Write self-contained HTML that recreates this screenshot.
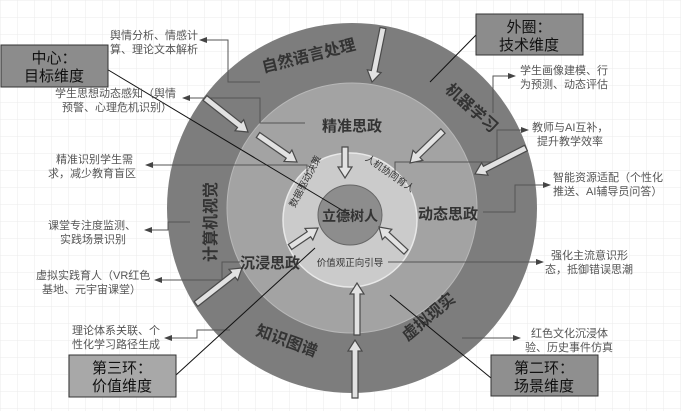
<!DOCTYPE html>
<html><head><meta charset="utf-8">
<style>
html,body{margin:0;padding:0;background:#fff;}
svg{display:block;font-family:"Liberation Sans","Noto Sans CJK SC",sans-serif;}
.ann{font-size:11px;fill:#555;}
.ring{font-size:16px;font-weight:bold;fill:#333;}
.mid{font-size:15px;font-weight:bold;fill:#333;}
.inn{font-size:9.5px;fill:#333;}
.box{font-size:15px;fill:#111;}
.con{fill:none;stroke:#555;stroke-width:1;}
</style></head><body>
<svg id="s" width="681" height="411" viewBox="0 0 681 411" xmlns="http://www.w3.org/2000/svg">
<defs>
<pattern id="g" width="17" height="17" patternUnits="userSpaceOnUse">
<path d="M17 0H0V17" fill="none" stroke="#ebebeb" stroke-width="1"/>
</pattern>
<marker id="ah" markerWidth="8" markerHeight="8" refX="7" refY="4" orient="auto" markerUnits="userSpaceOnUse">
<path d="M0,1 L8,4 L0,7 z" fill="#444"/>
</marker>
</defs>
<rect width="681" height="411" fill="url(#g)"/>
<circle cx="352" cy="208" r="185" fill="#7d7d7d"/>
<circle cx="352" cy="208" r="125" fill="#a3a3a3" stroke="#b8b8b8" stroke-width="1"/>
<circle cx="350" cy="220" r="67" fill="#cbcbcb" stroke="#e8e8e8" stroke-width="1.5"/>
<ellipse cx="350" cy="215" rx="32" ry="30" fill="#8d8d8d" stroke="#666" stroke-width="1"/>

<polyline class="con" points="260,82 228,82 228,40 200,40" marker-end="url(#ah)"/>
<polyline class="con" points="305,123 260,123 260,98 183,98" marker-end="url(#ah)"/>
<polyline class="con" points="307,175 307,165 146,165" marker-end="url(#ah)"/>
<polyline class="con" points="190,222 168,222 168,230 145,230" marker-end="url(#ah)"/>
<polyline class="con" points="240,262 222,262 222,280 155,280" marker-end="url(#ah)"/>
<polyline class="con" points="230,330 197,330 197,338 165,338" marker-end="url(#ah)"/>
<polyline class="con" points="493,113 493,76 515,76" marker-end="url(#ah)"/>
<polyline class="con" points="395,175 395,162 497,162 497,130 528,130" marker-end="url(#ah)"/>
<polyline class="con" points="483,212 515,212 515,185 550,185" marker-end="url(#ah)"/>
<polyline class="con" points="388,262 543,262" marker-end="url(#ah)"/>
<polyline class="con" points="462,338 520,338" marker-end="url(#ah)"/>

<g id="arrows"></g>

<line x1="105" y1="68" x2="350" y2="215" stroke="#111" stroke-width="1"/>
<line x1="476" y1="35" x2="430" y2="82" stroke="#111" stroke-width="1"/>
<line x1="176" y1="375" x2="315" y2="248" stroke="#111" stroke-width="1"/>
<line x1="491" y1="378" x2="390" y2="295" stroke="#111" stroke-width="1"/>

<text class="ring" transform="translate(310,61) rotate(-14)" text-anchor="middle">自然语言处理</text>
<text class="ring" transform="translate(468,112) rotate(42)" text-anchor="middle">机器学习</text>
<text class="ring" transform="translate(216,222) rotate(-90)" text-anchor="middle">计算机视觉</text>
<text class="ring" transform="translate(285,346) rotate(20)" text-anchor="middle">知识图谱</text>
<text class="ring" transform="translate(432,321) rotate(-40)" text-anchor="middle">虚拟现实</text>
<text class="mid" x="352" y="131" text-anchor="middle">精准思政</text>
<text class="mid" x="448" y="219" text-anchor="middle">动态思政</text>
<text class="mid" x="270" y="268" text-anchor="middle">沉浸思政</text>
<text class="inn" transform="translate(308,183) rotate(-62)" text-anchor="middle">数据驱动决策</text>
<text class="inn" transform="translate(388,176) rotate(35)" text-anchor="middle">人机协同育人</text>
<text class="inn" x="350" y="266" text-anchor="middle">价值观正向引导</text>
<text x="350" y="221" text-anchor="middle" style="font-size:14px;font-weight:bold;fill:#333">立德树人</text>

<text class="ann" x="110" y="39">舆情分析、情感计</text><text class="ann" x="110" y="53">算、理论文本解析</text>
<text class="ann" x="55" y="97">学生思想动态感知（舆情</text><text class="ann" x="62" y="111">预警、心理危机识别）</text>
<text class="ann" x="56" y="163">精准识别学生需</text><text class="ann" x="48" y="177">求，减少教育盲区</text>
<text class="ann" x="48" y="229">课堂专注度监测、</text><text class="ann" x="60" y="243">实践场景识别</text>
<text class="ann" x="36" y="279">虚拟实践育人（VR红色</text><text class="ann" x="42" y="293">基地、元宇宙课堂）</text>
<text class="ann" x="72" y="334">理论体系关联、个</text><text class="ann" x="72" y="348">性化学习路径生成</text>
<text class="ann" x="520" y="74">学生画像建模、行</text><text class="ann" x="520" y="88">为预测、动态评估</text>
<text class="ann" x="532" y="131">教师与AI互补，</text><text class="ann" x="537" y="145">提升教学效率</text>
<text class="ann" x="553" y="181">智能资源适配（个性化</text><text class="ann" x="553" y="195">推送、AI辅导员问答）</text>
<text class="ann" x="551" y="259">强化主流意识形</text><text class="ann" x="545" y="273">态，抵御错误思潮</text>
<text class="ann" x="531" y="337">红色文化沉浸体</text><text class="ann" x="525" y="351">验、历史事件仿真</text>

<rect x="1" y="45" width="107" height="42" fill="#8c8c8c" stroke="#333" stroke-width="1"/>
<text class="box" x="54" y="63" text-anchor="middle">中心：</text><text class="box" x="54" y="81" text-anchor="middle">目标维度</text>
<rect x="476" y="14" width="107" height="41" fill="#8c8c8c" stroke="#333" stroke-width="1"/>
<text class="box" x="529" y="32" text-anchor="middle">外圈：</text><text class="box" x="529" y="50" text-anchor="middle">技术维度</text>
<rect x="69" y="355" width="107" height="42" fill="#a8a8a8" stroke="#333" stroke-width="1"/>
<text class="box" x="122" y="373" text-anchor="middle">第三环：</text><text class="box" x="122" y="391" text-anchor="middle">价值维度</text>
<rect x="491" y="355" width="107" height="41" fill="#8f8f8f" stroke="#333" stroke-width="1"/>
<text class="box" x="544" y="373" text-anchor="middle">第二环：</text><text class="box" x="544" y="391" text-anchor="middle">场景维度</text>
</svg>
<script>
(function(){
var A=[[383,28,372,82],[205,98,248,132],[258,135,297,162],[345,147,345,178],[443,131,410,163],[526,148,475,174],[196,304,242,268],[290,247,318,228],[406,252,379,227],[357,335,357,283],[355,398,355,340]];
var g=document.getElementById('arrows'),ns='http://www.w3.org/2000/svg';
A.forEach(function(a){
var x1=a[0],y1=a[1],x2=a[2],y2=a[3],dx=x2-x1,dy=y2-y1,L=Math.sqrt(dx*dx+dy*dy),ux=dx/L,uy=dy/L,px=-uy,py=ux,sw=3,hw=7,hl=11;
var bx=x2-ux*hl,by=y2-uy*hl;
var pts=[[x1+px*sw,y1+py*sw],[bx+px*sw,by+py*sw],[bx+px*hw,by+py*hw],[x2,y2],[bx-px*hw,by-py*hw],[bx-px*sw,by-py*sw],[x1-px*sw,y1-py*sw]];
var p=document.createElementNS(ns,'polygon');
p.setAttribute('points',pts.map(function(q){return q[0].toFixed(1)+','+q[1].toFixed(1)}).join(' '));
p.setAttribute('fill','#e2e2e2');p.setAttribute('stroke','#4a4a4a');p.setAttribute('stroke-width','1.2');
g.appendChild(p);
});
})();
</script>
</body></html>
